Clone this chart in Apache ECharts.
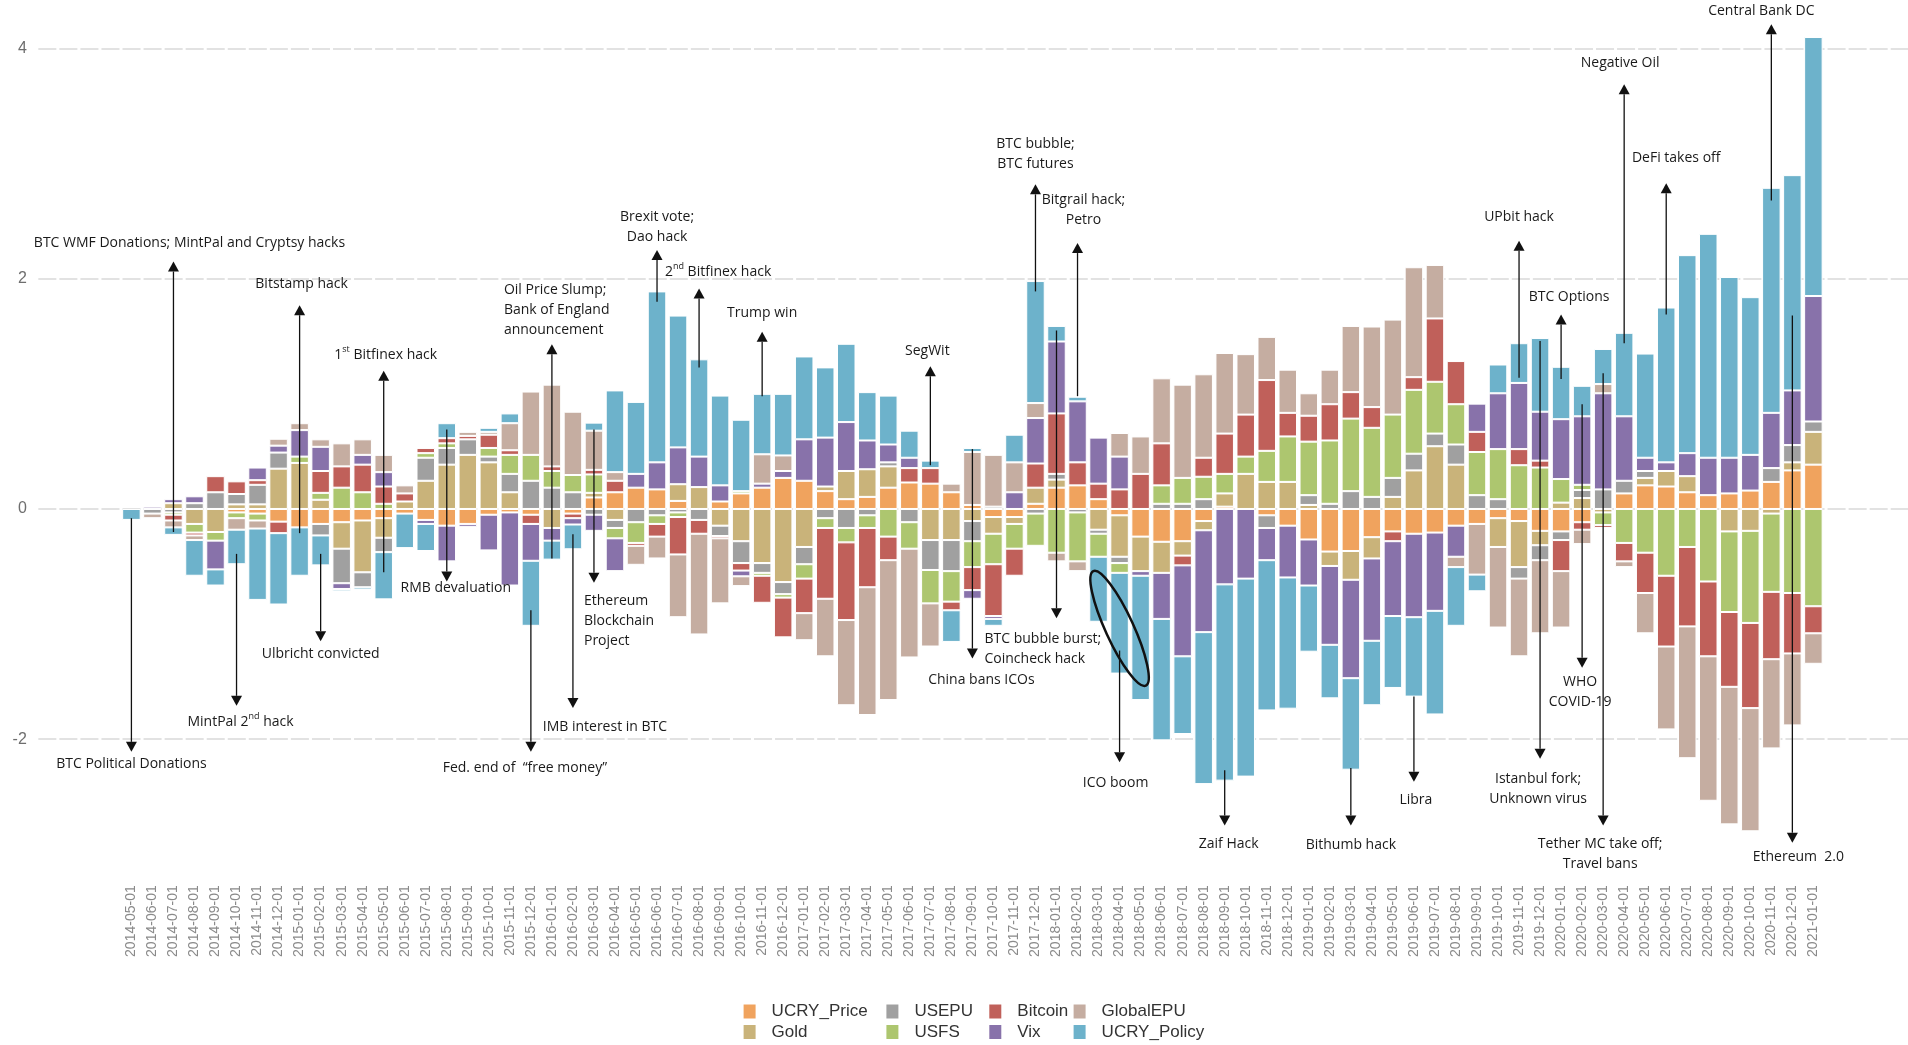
<!DOCTYPE html>
<html><head><meta charset="utf-8">
<script src="https://cdn.jsdelivr.net/npm/echarts@6/dist/echarts.min.js"></script>
<style>html,body{margin:0;padding:0;background:#fff}#c{width:1908px;height:1045px}</style>
</head><body><div id="c"></div><script>
const categories = [
 '2014-05-01','2014-06-01','2014-07-01','2014-08-01','2014-09-01','2014-10-01','2014-11-01','2014-12-01',
 '2015-01-01','2015-02-01','2015-03-01','2015-04-01','2015-05-01','2015-06-01','2015-07-01','2015-08-01','2015-09-01','2015-10-01','2015-11-01','2015-12-01',
 '2016-01-01','2016-02-01','2016-03-01','2016-04-01','2016-05-01','2016-06-01','2016-07-01','2016-08-01','2016-09-01','2016-10-01','2016-11-01','2016-12-01',
 '2017-01-01','2017-02-01','2017-03-01','2017-04-01','2017-05-01','2017-06-01','2017-07-01','2017-08-01','2017-09-01','2017-10-01','2017-11-01','2017-12-01',
 '2018-01-01','2018-02-01','2018-03-01','2018-04-01','2018-05-01','2018-06-01','2018-07-01','2018-08-01','2018-09-01','2018-10-01','2018-11-01','2018-12-01',
 '2019-01-01','2019-02-01','2019-03-01','2019-04-01','2019-05-01','2019-06-01','2019-07-01','2019-08-01','2019-09-01','2019-10-01','2019-11-01','2019-12-01',
 '2020-01-01','2020-02-01','2020-03-01','2020-04-01','2020-05-01','2020-06-01','2020-07-01','2020-08-01','2020-09-01','2020-10-01','2020-11-01','2020-12-01',
 '2021-01-01'];

const UCRY_Price = [0,0,0,0,0,-0.03,-0.04,-0.11,-0.16,-0.13,
 -0.115,-0.1,-0.08,-0.04,-0.095,-0.145,-0.13,-0.05,-0.03,-0.05,
 0,-0.04,0.1,0.145,0.185,0.17,0.07,0,0.065,0.135,
 0.185,0.27,0.245,0.155,0.085,0.105,0.185,0.23,0.22,0.145,
 0.035,-0.07,-0.07,0.045,0.185,0.205,0.085,-0.055,-0.24,-0.285,
 -0.28,-0.105,0.02,0,-0.055,-0.145,-0.265,-0.37,-0.365,-0.245,
 -0.195,-0.215,-0.205,-0.145,-0.13,-0.08,-0.105,-0.19,-0.195,-0.115,
 0,0.135,0.205,0.195,0.145,0.12,0.135,0.16,0.235,0.335,
 0.385];
const Gold = [0,0,0.05,-0.13,-0.2,0.04,0.04,0.35,0.40,0.08,
 -0.23,-0.45,-0.17,0.065,0.245,0.385,0.47,0.405,0.145,0,
 -0.165,0,0.04,-0.095,0,0,0.145,0.19,-0.145,-0.28,
 -0.47,-0.635,-0.33,0.04,0.245,0.24,0.185,0,-0.27,-0.27,
 -0.105,-0.145,-0.06,0.14,0.07,0,-0.18,-0.36,-0.3,-0.27,
 -0.125,-0.08,0.115,0.305,0.235,0.235,0.035,-0.125,-0.25,-0.185,
 0.105,0.335,0.545,0.385,0,-0.25,-0.4,-0.125,0.055,0.095,
 -0.03,0,0.065,0.135,0.14,0,-0.195,-0.19,-0.04,0.07,
 0.285];
const USEPU = [0,-0.04,-0.03,0.05,0.145,0.09,0.17,0.14,0,-0.1,
 -0.3,-0.13,-0.125,0,0.2,0.145,0.135,0.05,0.16,0.245,
 0.185,0.145,-0.05,-0.07,-0.115,-0.055,-0.03,-0.095,-0.09,-0.19,
 -0.085,-0.105,-0.15,-0.08,-0.165,-0.055,0.035,-0.115,-0.26,-0.27,
 -0.175,0.02,0,-0.04,0.05,-0.03,-0.035,-0.055,0,0.045,
 0.045,0.085,0,0,-0.11,0,0.085,0.045,0.155,0.105,
 0.165,0.145,0.11,0.175,0.12,0.085,-0.1,-0.13,-0.075,0.07,
 0.17,0.11,0.06,0,0,0,0,0,0.12,0.15,
 0.09];
const USFS = [0,0,-0.02,-0.075,-0.075,-0.05,-0.06,0,0.055,0.06,
 0.185,0.145,0.045,0,0.04,0.04,0,0.075,0.165,0.225,
 0.145,0.15,0.16,-0.09,-0.18,-0.075,-0.04,0,0,0.02,
 -0.025,-0.03,-0.125,-0.085,-0.125,-0.11,-0.24,-0.23,-0.29,-0.265,
 -0.225,-0.265,-0.215,-0.28,-0.38,-0.425,-0.2,-0.085,0,0.16,
 0.225,0.195,0.17,0.15,0.27,0.395,0.465,0.55,0.63,0.6,
 0.55,0.555,0.45,0.35,0.375,0.435,0.38,0.36,0.205,0.045,
 -0.11,-0.295,-0.38,-0.58,-0.33,-0.63,-0.7,-0.8,-0.68,-0.73,
 -0.845];
const Bitcoin = [0,0,-0.05,-0.025,0.14,0.11,0.04,-0.1,0,0.19,
 0.185,0.24,0.15,0.07,0.045,0.045,0.03,0.115,0.04,-0.08,
 0.04,-0.04,0.04,0.1,-0.025,-0.11,-0.325,-0.12,-0.02,-0.065,
 -0.235,-0.345,-0.3,-0.615,-0.675,-0.515,-0.205,0.125,0.135,-0.075,
 -0.2,-0.45,-0.235,0.21,0.525,0.2,0.135,0.17,0.305,0.365,
 -0.085,0.165,0.35,0.365,0.615,0.205,0.225,0.315,0.23,0.18,
 -0.085,0.11,0.55,0.375,0.175,0,0.14,0.06,-0.27,-0.065,
 -0.025,-0.16,-0.35,-0.615,-0.69,-0.65,-0.65,-0.74,-0.585,-0.525,
 -0.235];
const Vix = [0,0.02,0.035,0.06,-0.25,0,0.11,0.06,0.23,0.21,
 -0.05,0.085,0.125,0,-0.035,-0.31,-0.025,-0.31,-0.635,-0.32,
 -0.11,-0.055,-0.14,-0.285,0.12,0.235,0.32,0.265,0.14,-0.05,
 0.035,0.06,0.36,0.425,0.425,0.25,0.155,0.09,0,0,
 -0.075,-0.025,0.145,0.395,0.625,0.53,0.4,0.285,-0.04,-0.4,
 -0.79,-0.885,-0.655,-0.605,-0.28,-0.45,-0.4,-0.685,-0.855,-0.715,
 -0.65,-0.725,-0.68,-0.27,0.245,0.485,0.575,0.425,0.52,0.595,
 0.835,0.56,0.115,0.075,0.2,0.325,0.31,0.31,0.48,0.475,
 1.09];
const GlobalEPU = [0,-0.04,-0.06,-0.04,0,-0.1,-0.07,0.06,0.06,0.065,
 0.2,0.135,0.15,0.07,0,0,0.035,0.025,0.235,0.55,
 0.71,0.55,0.34,0.075,-0.165,-0.19,-0.545,-0.875,-0.565,-0.085,
 0.255,0.135,-0.235,-0.5,-0.74,-1.11,-1.215,-0.945,-0.375,0.075,
 0.46,0.45,0.26,0.13,-0.075,-0.085,0,0.205,0.325,0.565,
 0.81,0.725,0.7,0.525,0.375,0.375,0.195,0.3,0.575,0.7,
 0.825,0.955,0.465,-0.09,-0.44,-0.7,-0.675,-0.635,-0.49,-0.125,
 0.08,-0.05,-0.35,-0.72,-1.145,-1.255,-1.195,-1.07,-0.775,-0.625,
 -0.265];
const UCRY_Policy = [-0.095,0,-0.065,-0.31,-0.14,-0.3,-0.62,-0.62,-0.42,-0.26,
 -0.02,-0.02,-0.41,-0.3,-0.235,0.13,0,0.035,0.085,-0.565,
 -0.165,-0.215,0.07,0.71,0.625,1.485,1.145,0.845,0.78,0.62,
 0.525,0.535,0.72,0.61,0.68,0.42,0.425,0.235,0.065,-0.275,
 0.035,-0.06,0.24,1.06,0.135,0.04,-0.565,-0.875,-1.08,-1.055,
 -0.675,-1.32,-1.705,-1.72,-1.305,-1.14,-0.575,-0.465,-0.795,-0.56,
 -0.625,-0.69,-0.9,-0.51,-0.145,0.25,0.345,0.64,0.455,0.265,
 0.305,0.725,0.905,1.345,1.72,1.945,1.57,1.37,1.955,1.87,
 2.25];

const yTickLabels = ['-2','0','2','4'];

// Event annotations: category, arrow start value, arrow tip value, text, value of first text line
const annotations = [
 {cat:'2014-05-01', from:-0.08, to:-2.11, ty:-2.22, text:'BTC Political Donations'},
 {cat:'2014-07-01', from:-0.2, to:2.15, ty:2.31, text:'BTC WMF Donations; MintPal and Cryptsy hacks', dx:16},
 {cat:'2014-10-01', from:-0.39, to:-1.71, ty:-1.85, text:'MintPal 2{s|nd} hack', dx:4},
 {cat:'2015-01-01', from:-0.21, to:1.77, ty:1.955, text:'Bitstamp hack', dx:2},
 {cat:'2015-02-01', from:-0.39, to:-1.15, ty:-1.26, text:'Ulbricht convicted'},
 {cat:'2015-05-01', from:-0.55, to:1.2, ty:1.34, text:'1{s|st} Bitfinex hack', dx:2},
 {cat:'2015-08-01', from:0.69, to:-0.63, ty:-0.69, text:'RMB devaluation', dx:9},
 {cat:'2015-12-01', from:-0.88, to:-2.11, ty:-2.25, text:'Fed. end of  \u201cfree money\u201d', dx:-6},
 {cat:'2016-01-01', from:-0.43, to:1.43, ty:1.905, text:'Oil Price Slump;\nBank of England\nannouncement', dx:-48, align:'left'},
 {cat:'2016-02-01', from:-0.22, to:-1.73, ty:-1.89, text:'IMB interest in BTC', dx:32},
 {cat:'2016-03-01', from:0.69, to:-0.64, ty:-0.80, text:'Ethereum\nBlockchain\nProject', dx:-10, align:'left'},
 {cat:'2016-06-01', from:1.8, to:2.25, ty:2.54, text:'Brexit vote;\nDao hack'},
 {cat:'2016-08-01', from:1.23, to:1.915, ty:2.06, text:'2{s|nd} Bitfinex hack', dx:19},
 {cat:'2016-11-01', from:0.98, to:1.54, ty:1.70, text:'Trump win'},
 {cat:'2017-07-01', from:0.38, to:1.24, ty:1.37, text:'SegWit', dx:-3},
 {cat:'2017-09-01', from:0.52, to:-1.30, ty:-1.49, text:'China bans ICOs', dx:9},
 {cat:'2017-12-01', from:1.89, to:2.82, ty:3.17, text:'BTC bubble;\nBTC futures'},
 {cat:'2018-01-01', from:1.55, to:-0.95, ty:-1.13, text:'BTC bubble burst;\nCoincheck hack', dx:-72, align:'left'},
 {cat:'2018-02-01', from:0.98, to:2.31, ty:2.68, text:'Bitgrail hack;\nPetro', dx:6},
 {cat:'2018-04-01', from:-1.23, to:-2.2, ty:-2.38, text:'ICO boom', dx:-4},
 {cat:'2018-09-01', from:-2.27, to:-2.75, ty:-2.91, text:'Zaif Hack', dx:4},
 {cat:'2019-03-01', from:-2.25, to:-2.75, ty:-2.92, text:'Bithumb hack'},
 {cat:'2019-06-01', from:-1.63, to:-2.37, ty:-2.53, text:'Libra', dx:2},
 {cat:'2019-11-01', from:1.14, to:2.33, ty:2.54, text:'UPbit hack'},
 {cat:'2019-12-01', from:1.46, to:-2.17, ty:-2.35, text:'Istanbul fork;\nUnknown virus', dx:-2},
 {cat:'2020-01-01', from:1.13, to:1.69, ty:1.84, text:'BTC Options', dx:8},
 {cat:'2020-02-01', from:0.91, to:-1.38, ty:-1.50, text:'WHO\nCOVID-19', dx:-2},
 {cat:'2020-03-01', from:1.18, to:-2.75, ty:-2.91, text:'Tether MC take off;\nTravel bans', dx:-3},
 {cat:'2020-04-01', from:1.44, to:3.69, ty:3.875, text:'Negative Oil', dx:-4},
 {cat:'2020-06-01', from:1.69, to:2.83, ty:3.05, text:'DeFi takes off', dx:10},
 {cat:'2020-11-01', from:2.68, to:4.21, ty:4.33, text:'Central Bank DC', dx:-10},
 {cat:'2020-12-01', from:1.68, to:-2.9, ty:-3.02, text:'Ethereum  2.0', dx:6}
];
const ellipseNote = {cat:'2018-04-01', value:-1.037};

const seriesNames = ['UCRY_Price','Gold','USEPU','USFS','Bitcoin','Vix','GlobalEPU','UCRY_Policy'];
const seriesValues = [UCRY_Price, Gold, USEPU, USFS, Bitcoin, Vix, GlobalEPU, UCRY_Policy];
const colors = ['#F0A35E','#C9B37A','#A0A0A0','#ADC66F','#C0605A','#8872AA','#C5ADA1','#6DB2CB'];

const PAD = 4;
const padL = ['p0','p1','p2','p3'], padR = ['p4','p5','p6','p7'];
const axisCats = padL.concat(categories, padR);
const padNull = [null,null,null,null];

const legendColX = [743.6, 886.4, 989.3, 1073.6];
const legendRowY = [1002.5, 1023];

const option = {
  animation: false,
  backgroundColor: '#ffffff',
  grid: {left: 36.8, top: 14, width: 1873.45, height: 840.3},
  xAxis: {
    type: 'category', data: axisCats,
    axisLine: {show: false}, axisTick: {show: false},
    axisLabel: {rotate: 90, interval: 0, margin: 31, color: '#8a8a8a', fontSize: 14,
      fontFamily: 'Liberation Sans, Arial, sans-serif',
      formatter: v => (v.charAt(0) === 'p' ? '' : v)},
    splitLine: {show: false}
  },
  yAxis: {
    type: 'value', min: -3, max: 4.3, interval: 1,
    axisLine: {show: false}, axisTick: {show: false},
    axisLabel: {margin: 10, color: '#6e6e6e', fontSize: 16, fontFamily: 'Liberation Sans, Arial, sans-serif',
      formatter: v => (yTickLabels.indexOf(String(v)) >= 0 ? String(v) : '')},
    splitLine: {show: true, lineStyle: {color: ['rgba(0,0,0,0)', '#d9d9d9'], width: 1.6, type: [18.05, 3], dashOffset: 19.55}}
  },
  legend: seriesNames.map((n, s) => ({
    data: [n], left: legendColX[s >> 1], top: legendRowY[s % 2], padding: 0,
    icon: 'rect', itemWidth: 12, itemHeight: 14, selectedMode: false,
    itemStyle: {borderWidth: 0},
    textStyle: {fontSize: 17, lineHeight: 18, color: '#333', fontFamily: 'Liberation Sans, Arial, sans-serif', padding: [0, 0, 0, 11]}
  })),
  series: seriesNames.map((n, s) => ({
    name: n, type: 'bar', stack: 'total', barCategoryGap: '12%',
    data: padNull.concat(seriesValues[s].map(v => (v === 0 ? null : v)), padNull),
    itemStyle: {color: colors[s], borderColor: '#ffffff', borderWidth: 1},
    emphasis: {disabled: true}
  }))
};

const chart = echarts.init(document.getElementById('c'));
chart.setOption(option);

function px(cat, v) {
  return chart.convertToPixel({xAxisIndex: 0, yAxisIndex: 0}, [categories.indexOf(cat) + PAD, v]);
}
const graphics = [];
const ink = '#111';
annotations.forEach(a => {
  const p1 = px(a.cat, a.from), p2 = px(a.cat, a.to);
  const x = p1[0];
  const dir = p2[1] > p1[1] ? 1 : -1;
  const ah = 10, aw = 5.5;
  graphics.push({type: 'line', silent: true, z: 100, shape: {x1: x, y1: p1[1], x2: x, y2: p2[1] - dir * ah},
    style: {stroke: ink, lineWidth: 1.3}});
  graphics.push({type: 'polygon', silent: true, z: 100,
    shape: {points: [[x, p2[1]], [x - aw, p2[1] - dir * ah], [x + aw, p2[1] - dir * ah]]},
    style: {fill: ink}});
  const pt = px(a.cat, a.ty);
  graphics.push({type: 'text', silent: true, z: 100, x: x + (a.dx || 0), y: pt[1] - 10,
    style: {text: a.text, fontSize: 14, fontFamily: 'Open Sans, sans-serif', fill: '#1a1a1a',
      align: a.align || 'center', verticalAlign: 'top', lineHeight: 20,
      rich: {s: {fontSize: 9, lineHeight: 12, verticalAlign: 'top', fontFamily: 'Open Sans, sans-serif', fill: '#1a1a1a'}}}});
});
const ec = px(ellipseNote.cat, ellipseNote.value);
graphics.push({type: 'ellipse', silent: true, z: 100, x: ec[0], y: ec[1], rotation: 0.43,
  shape: {cx: 0, cy: 0, rx: 14, ry: 63}, style: {fill: 'none', stroke: ink, lineWidth: 2.5}});
chart.setOption({graphic: graphics});
</script></body></html>
